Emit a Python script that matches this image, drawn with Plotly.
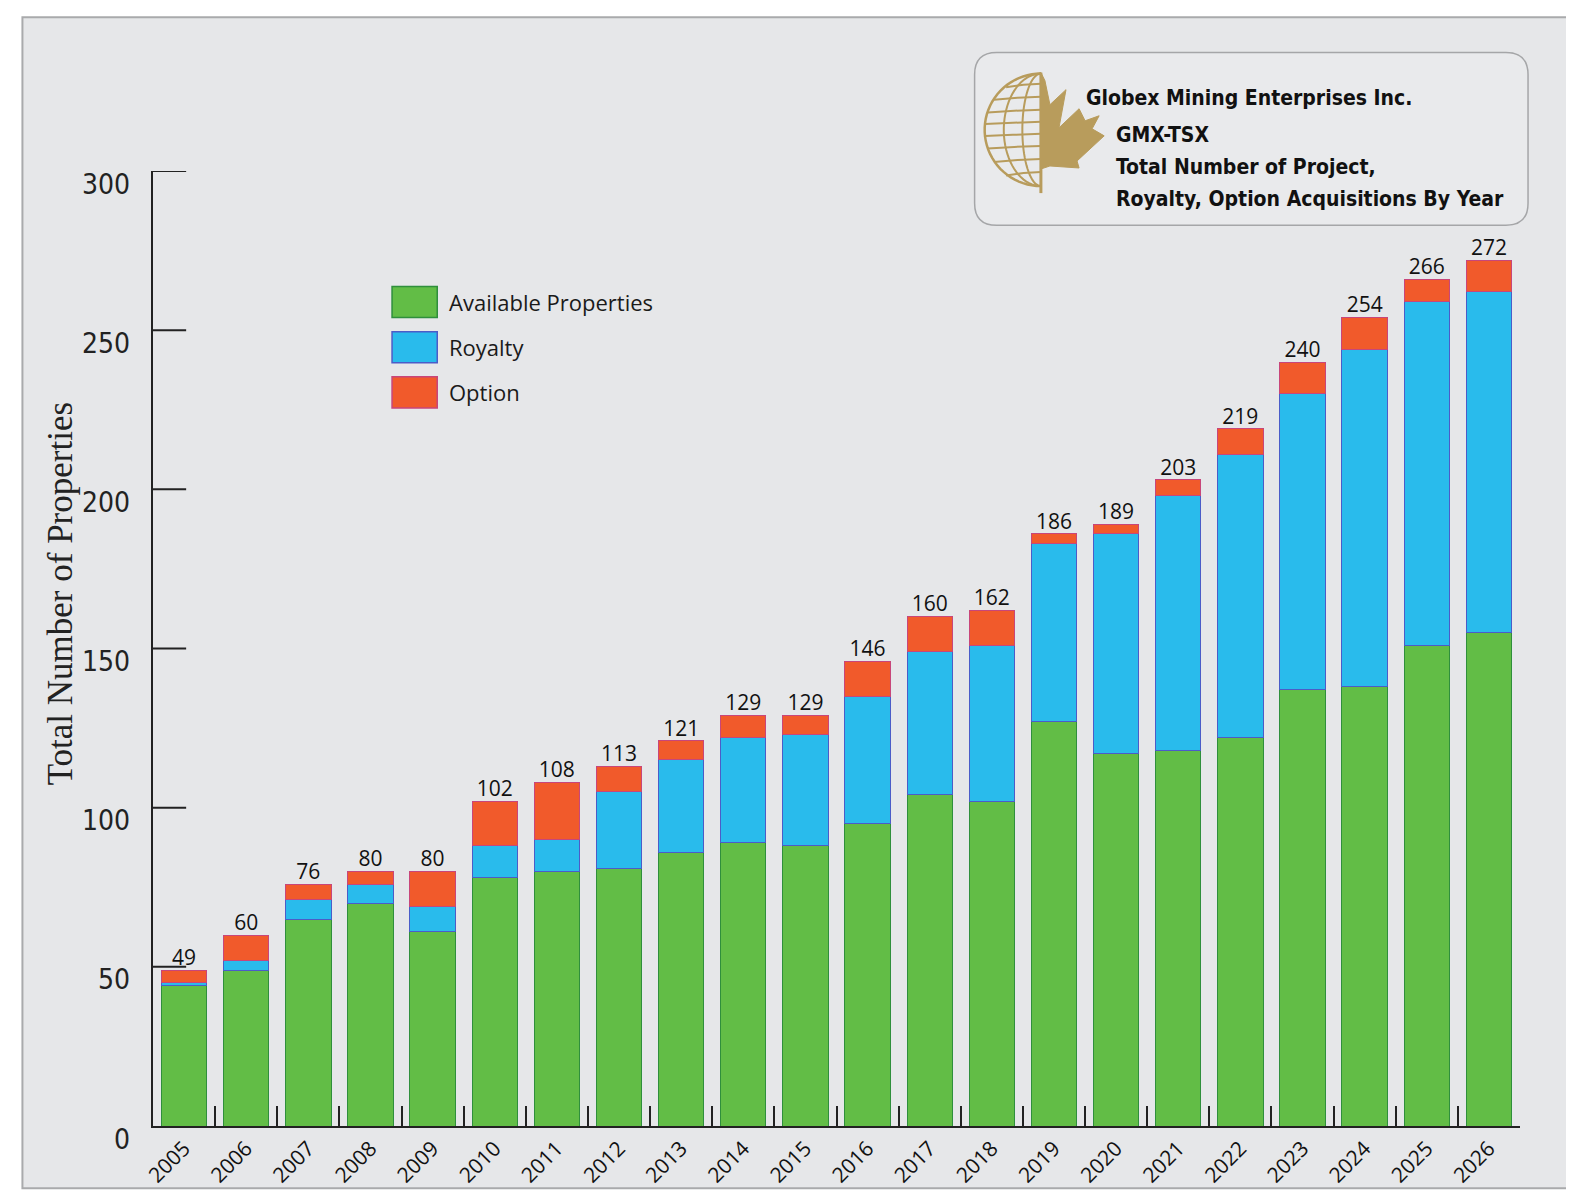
import numpy as np
import plotly.graph_objects as go

# ---------------- data ----------------
years = ["2005", "2006", "2007", "2008", "2009", "2010", "2011", "2012", "2013", "2014", "2015",
         "2016", "2017", "2018", "2019", "2020", "2021", "2022", "2023", "2024", "2025", "2026"]
available = [44, 49, 65, 70, 61, 78, 80, 81, 86, 89, 88, 95, 104, 102, 127, 117, 118, 122, 137, 138, 151, 155]
royalty = [1, 3, 6, 6, 8, 10, 10, 24, 29, 33, 35, 40, 45, 49, 56, 69, 80, 89, 93, 106, 108, 107]
option = [4, 8, 5, 4, 11, 14, 18, 8, 6, 7, 6, 11, 11, 11, 3, 3, 5, 8, 10, 10, 7, 10]
totals = [49, 60, 76, 80, 80, 102, 108, 113, 121, 129, 129, 146, 160, 162, 186, 189, 203, 219, 240, 254, 266, 272]
series_names = ["Available Properties", "Royalty", "Option"]
y_ticks = [0, 50, 100, 150, 200, 250, 300]
title_lines = ["Globex Mining Enterprises Inc.", "GMX-TSX", "Total Number of Project,",
               "Royalty, Option Acquisitions By Year"]
y_title = "Total Number of Properties"

# ---------------- styling ----------------
fills = ["#62bd46", "#29bbec", "#f15a2b"]
edges = ["#2f8f3c", "#4b5cc8", "#c8467a"]
OFF = 8                      # page body margin
S = 1.0045                   # small capture-scale compensation
W, H = 1566, 1190
L, R, T, B = 152, 1513, 170, 1121   # plot area in target screen pixels
gold = "#b89c5c"
axis_col = "#222"
cond = "DejaVu Sans Condensed"


def px(x):
    return (x - L) / (R - L)


def py(y):
    return (B - y) / (B - T)


fig = go.Figure()
for vals, name, fc, ec in zip([available, royalty, option], series_names, fills, edges):
    fig.add_trace(go.Bar(x=years, y=vals, name=name, marker=dict(color=fc, line=dict(color=ec, width=1)),
                         showlegend=False))

fig.add_trace(go.Scatter(x=years, y=totals, mode="text", text=[str(t) for t in totals],
                         textposition="top center", textfont=dict(family="Open Sans", size=21, color="#111"),
                         showlegend=False, cliponaxis=False, hoverinfo="skip"))

shapes = []
# gray panel
shapes.append(dict(type="rect", xref="paper", yref="paper", x0=px(22), x1=px(1565), y0=py(17), y1=py(1183),
                   fillcolor="#e6e7e9", line=dict(color="#a9aaac", width=2), layer="below"))


def rounded_rect(x0, y0, x1, y1, r):
    pts = [
        f"M {px(x0 + r)},{py(y0)}",
        f"L {px(x1 - r)},{py(y0)}",
        f"Q {px(x1)},{py(y0)} {px(x1)},{py(y0 + r)}",
        f"L {px(x1)},{py(y1 - r)}",
        f"Q {px(x1)},{py(y1)} {px(x1 - r)},{py(y1)}",
        f"L {px(x0 + r)},{py(y1)}",
        f"Q {px(x0)},{py(y1)} {px(x0)},{py(y1 - r)}",
        f"L {px(x0)},{py(y0 + r)}",
        f"Q {px(x0)},{py(y0)} {px(x0 + r)},{py(y0)}",
        "Z",
    ]
    return " ".join(pts)


shapes.append(dict(type="path", xref="paper", yref="paper", path=rounded_rect(970, 52, 1521, 224, 22),
                   fillcolor="#e9eaec", line=dict(color="#a5a6a8", width=1.5), layer="below"))

# logo: half globe + half maple leaf
cx, cy, rr = 1036, 129, 56


def poly(points, close=False):
    s = "M " + " L ".join(f"{px(a)},{py(b)}" for a, b in points)
    return s + (" Z" if close else "")


ang = np.linspace(np.pi / 2, 3 * np.pi / 2, 40)
outline = [(cx + rr * np.cos(a), cy - rr * np.sin(a)) for a in ang]
shapes.append(dict(type="path", xref="paper", yref="paper", path=poly(outline), line=dict(color=gold, width=2.5)))
for k in [0.33, 0.66]:
    arc = [(cx + k * rr * np.cos(a), cy - rr * np.sin(a)) for a in ang]
    shapes.append(dict(type="path", xref="paper", yref="paper", path=poly(arc), line=dict(color=gold, width=2)))
for dy in [-44, -31, -18, -6, 6, 18, 31, 44]:
    half = np.sqrt(max(rr ** 2 - dy ** 2, 0))
    lat = [(cx - half, cy + dy + 2 * abs(dy) / rr), (cx - half / 2, cy + dy - 1), (cx, cy + dy - 2)]
    shapes.append(dict(type="path", xref="paper", yref="paper", path=poly(lat), line=dict(color=gold, width=2)))
shapes.append(dict(type="line", xref="paper", yref="paper", x0=px(cx), x1=px(cx), y0=py(72), y1=py(192),
                   line=dict(color=gold, width=3)))
leaf = [(1036, 72), (1040, 80), (1045, 104), (1061, 89), (1054, 127), (1074, 108), (1080, 120),
        (1094, 115), (1087, 128), (1099, 135), (1072, 160), (1074, 167), (1045, 165), (1036, 168)]
shapes.append(dict(type="path", xref="paper", yref="paper", path=poly(leaf, close=True),
                   fillcolor=gold, line=dict(color=gold, width=1)))

annotations = []
# y ticks drawn inward (to the right of the axis line) with labels set slightly below
for v in y_ticks:
    if v > 0:
        shapes.append(dict(type="line", xref="paper", yref="y", x0=0, x1=px(L + 33), y0=v, y1=v,
                           line=dict(color=axis_col, width=2)))
    annotations.append(dict(xref="paper", yref="y", x=px(131), y=v, yshift=-13, text=str(v), showarrow=False,
                            xanchor="right", yanchor="middle",
                            font=dict(family=cond, size=28, color="#222")))

# y axis title
annotations.append(dict(xref="paper", yref="paper", x=px(60), y=py(591), text=y_title, textangle=-90,
                        showarrow=False, xanchor="center", yanchor="middle",
                        font=dict(family="Liberation Serif", size=35, color="#222")))

# manual legend
legend_tops = [285, 330, 375]
for name, fc, ec, top in zip(series_names, fills, edges, legend_tops):
    shapes.append(dict(type="rect", xref="paper", yref="paper", x0=px(390), x1=px(435), y0=py(top + 31),
                       y1=py(top), fillcolor=fc, line=dict(color=ec, width=1.5)))
    annotations.append(dict(xref="paper", yref="paper", x=px(445), y=py(top + 15.5), text=name, showarrow=False,
                            xanchor="left", yanchor="middle",
                            font=dict(family="Open Sans", size=22, color="#1a1a1a")))

# title text
title_pos = [(1079, 97), (1109, 134), (1109, 166), (1109, 198)]
for txt, (x, y) in zip(title_lines, title_pos):
    annotations.append(dict(xref="paper", yref="paper", x=px(x), y=py(y), text=f"<b>{txt}</b>", showarrow=False,
                            xanchor="left", yanchor="middle",
                            font=dict(family=cond, size=21, color="#111")))

ml = round(L * S - OFF)
mt = round(T * S - OFF)
mr = round(W - (R * S - OFF))
mb = round(H - (B * S - OFF))

fig.update_layout(
    width=W, height=H,
    margin=dict(l=ml, r=mr, t=mt, b=mb, autoexpand=False),
    paper_bgcolor="white", plot_bgcolor="rgba(0,0,0,0)",
    barmode="stack", bargap=0.27,
    shapes=shapes, annotations=annotations,
    xaxis=dict(type="category", range=[-0.5, 21.5], tickson="boundaries", ticks="inside", ticklen=20,
               tickwidth=2, tickcolor=axis_col, showline=True, linecolor=axis_col, linewidth=2,
               showgrid=False, tickangle=-45, zeroline=False,
               tickfont=dict(family="Open Sans", size=21, color="#111")),
    yaxis=dict(range=[0, 300], tickvals=y_ticks, ticks="", showticklabels=False, showline=True,
               linecolor=axis_col, linewidth=2, showgrid=False, zeroline=False),
)

fig.write_html("out.html")
